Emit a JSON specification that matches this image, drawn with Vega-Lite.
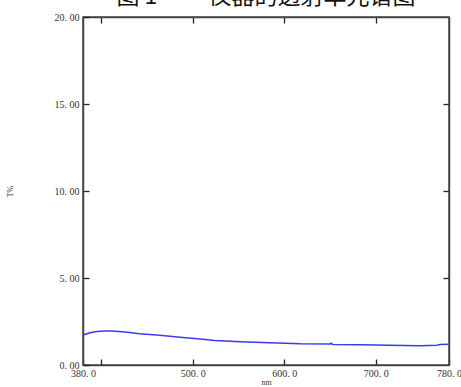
{
  "$schema": "https://vega.github.io/schema/vega-lite/v6.json",
  "width": 366,
  "height": 348,
  "autosize": {"type": "none"},
  "padding": {"left": 83, "top": 17, "right": 12, "bottom": 22},
  "background": "white",
  "title": {
    "text": "图 1 　　仪器的透射率光谱图",
    "font": "Noto Sans CJK SC",
    "fontSize": 23,
    "fontWeight": "normal",
    "color": "#111",
    "anchor": "middle",
    "baseline": "alphabetic",
    "offset": -15,
    "dx": 0
  },
  "config": {
    "view": {"stroke": "#444", "strokeWidth": 1.5},
    "axis": {
      "grid": false,
      "domainColor": "#444",
      "domainWidth": 1.5,
      "tickColor": "#222",
      "tickWidth": 1.3,
      "labelFont": "Liberation Serif",
      "labelFontSize": 10,
      "labelColor": "#333",
      "titleFont": "Liberation Serif",
      "titleFontSize": 8,
      "titleFontWeight": "normal",
      "titleColor": "#333"
    }
  },
  "data": {
    "values": [
      {"nm": 380, "T": 1.72},
      {"nm": 387.7, "T": 1.85},
      {"nm": 395, "T": 1.93},
      {"nm": 404, "T": 1.96},
      {"nm": 412, "T": 1.95},
      {"nm": 426, "T": 1.89},
      {"nm": 442, "T": 1.8},
      {"nm": 464, "T": 1.71},
      {"nm": 486, "T": 1.6},
      {"nm": 508, "T": 1.49},
      {"nm": 524, "T": 1.41},
      {"nm": 552, "T": 1.34},
      {"nm": 584, "T": 1.28},
      {"nm": 617, "T": 1.22},
      {"nm": 650, "T": 1.2},
      {"nm": 651, "T": 1.25},
      {"nm": 653, "T": 1.18},
      {"nm": 683, "T": 1.17},
      {"nm": 715, "T": 1.13},
      {"nm": 748, "T": 1.11},
      {"nm": 767, "T": 1.13},
      {"nm": 770, "T": 1.18},
      {"nm": 780, "T": 1.19}
    ]
  },
  "layer": [
    {
      "mark": {"type": "line", "color": "#3a3af2", "strokeWidth": 1.5, "interpolate": "linear"},
      "encoding": {
        "x": {
          "field": "nm",
          "type": "quantitative",
          "scale": {"domain": [380, 780], "nice": false, "zero": false},
          "axis": {
            "orient": "bottom",
            "title": "nm",
            "titlePadding": 0,
            "values": [380, 400, 500, 600, 700, 780],
            "labelExpr": "datum.value == 400 ? '' : replace(format(datum.value, '.1f'), '.', '. ')",
            "tickSize": -6,
            "labelPadding": 9,
            "labelFlush": false,
            "labelOverlap": false
          }
        },
        "y": {
          "field": "T",
          "type": "quantitative",
          "scale": {"domain": [0, 20], "nice": false},
          "axis": {
            "orient": "left",
            "title": "T%",
            "titlePadding": 40,
            "values": [0, 5, 10, 15, 20],
            "labelExpr": "replace(format(datum.value, '.2f'), '.', '. ')",
            "tickSize": -6,
            "labelPadding": 10,
            "labelFlush": false,
            "labelOverlap": false
          }
        }
      }
    },
    {
      "mark": {"type": "line", "opacity": 0},
      "encoding": {
        "x": {
          "field": "nm",
          "type": "quantitative",
          "axis": {
            "orient": "top",
            "title": null,
            "values": [400, 500, 600, 700],
            "labels": false,
            "tickSize": -6
          }
        },
        "y": {
          "field": "T",
          "type": "quantitative",
          "axis": {
            "orient": "right",
            "title": null,
            "values": [5, 10, 15],
            "labels": false,
            "tickSize": -6
          }
        }
      }
    }
  ],
  "resolve": {"axis": {"x": "independent", "y": "independent"}}
}
